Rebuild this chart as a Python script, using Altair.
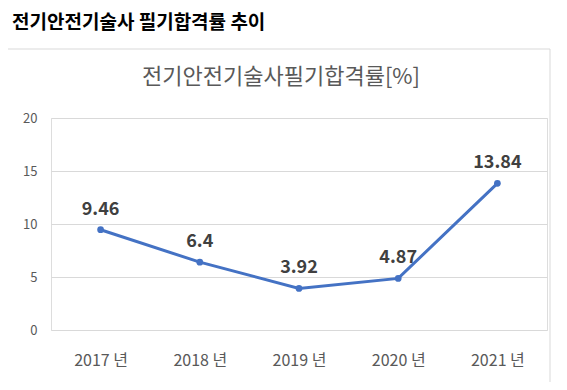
import altair as alt
import pandas as pd

years = ["2017 년", "2018 년", "2019 년", "2020 년", "2021 년"]
rates = [9.46, 6.4, 3.92, 4.87, 13.84]
labels = ["9.46", "6.4", "3.92", "4.87", "13.84"]
y_ticks = [0, 5, 10, 15, 20]
outer_title = "전기안전기술사 필기합격률 추이"
inner_title = "전기안전기술사필기합격률[%]"

FONT = "Noto Sans CJK KR"
W, H = 496, 212

df = pd.DataFrame({"year": years, "rate": rates, "label": labels})

x = alt.X("year:N", sort=years,
          scale=alt.Scale(paddingInner=0, paddingOuter=0),
          axis=alt.Axis(title=None, labelAngle=0, ticks=False, domain=False,
                        labelPadding=22, labelFontSize=16, labelColor="#595959",
                        labelFont=FONT, grid=False))
y = alt.Y("rate:Q", scale=alt.Scale(domain=[0, 20]),
          axis=alt.Axis(title=None, values=y_ticks, ticks=False, domain=False,
                        labelPadding=14, labelFontSize=13, labelColor="#595959",
                        labelFont=FONT, gridColor="#d9d9d9", gridWidth=1))

base = alt.Chart(df)

line = base.mark_line(color="#4472C4", strokeWidth=3).encode(x=x, y=y)
pts = base.mark_point(filled=True, color="#4472C4", size=45, opacity=1).encode(x=x, y=y)
txt = base.mark_text(font=FONT, fontSize=18, fontWeight="bold", color="#404040",
                     dy=-20, baseline="middle").encode(x=x, y=y, text="label:N")

frame = alt.Chart(pd.DataFrame({"a": [0]})).mark_rect(
    fill=None, stroke="#d9d9d9", strokeWidth=1).encode(
    x=alt.value(-44), x2=alt.value(499), y=alt.value(-69), y2=alt.value(270))

t_outer = alt.Chart(pd.DataFrame({"t": [outer_title]})).mark_text(
    font=FONT, fontSize=19, fontWeight="bold", color="#000000",
    align="left", baseline="middle").encode(
    x=alt.value(-39), y=alt.value(-95), text="t:N")

t_inner = alt.Chart(pd.DataFrame({"t": [inner_title]})).mark_text(
    font=FONT, fontSize=22, color="#595959",
    align="center", baseline="middle").encode(
    x=alt.value(230), y=alt.value(-41), text="t:N")

chart = alt.layer(frame, line, pts, txt, t_outer, t_inner).properties(
    width=W, height=H,
    autosize=alt.AutoSizeParams(type="none"),
    padding={"left": 43, "top": 110, "right": 12, "bottom": 52},
).configure_view(stroke=None).configure(background="white")

chart.save("out.html", embed_options={"renderer": "svg", "actions": False})
